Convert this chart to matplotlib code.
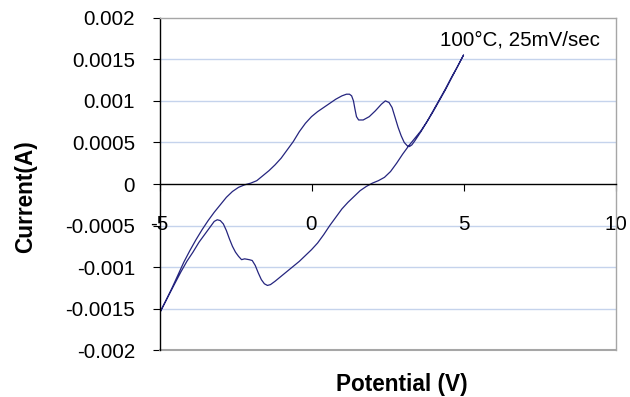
import matplotlib
matplotlib.use('Agg')
import matplotlib.pyplot as plt

# 正扫 (-5 V -> 5 V)
fwd_v = [-5.0, -4.8, -4.6, -4.4, -4.2, -4.0, -3.8, -3.6, -3.4, -3.2, -3.0,
         -2.8, -2.6, -2.4, -2.2, -2.0, -1.8, -1.6, -1.4, -1.2, -1.0, -0.8,
         -0.6, -0.4, -0.2, 0.0, 0.2, 0.4, 0.6, 0.8, 1.0, 1.15, 1.25, 1.32,
         1.38, 1.43, 1.48, 1.55, 1.7, 1.9, 2.1, 2.3, 2.43, 2.55, 2.65, 2.75,
         2.85, 2.95, 3.05, 3.15, 3.22, 3.3, 3.4, 3.6, 3.8, 4.0, 4.2, 4.4, 4.6,
         4.8, 5.0]
fwd_i = [-0.001555, -0.00141, -0.00126, -0.00110, -0.00094, -0.00080, -0.00067,
         -0.00055, -0.00044, -0.00034, -0.00025, -0.00016, -0.00009, -0.00004,
         -0.00001, 0.00001, 0.00004, 0.00010, 0.00016, 0.00023, 0.00031,
         0.00041, 0.00051, 0.00063, 0.00073, 0.00081, 0.00087, 0.00092,
         0.00097, 0.00102, 0.00106, 0.00108, 0.00108, 0.00106, 0.00100,
         0.00090, 0.00081, 0.00077, 0.00077, 0.00081, 0.00088, 0.00096,
         0.00100, 0.00098, 0.00092, 0.00080, 0.00068, 0.00058, 0.00050,
         0.00046, 0.00045, 0.00047, 0.00052, 0.00063, 0.00075, 0.00088,
         0.00101, 0.00114, 0.00128, 0.00141, 0.00155]

# 反扫 (5 V -> -5 V)
rev_v = [5.0, 4.8, 4.6, 4.4, 4.2, 4.0, 3.8, 3.6, 3.4, 3.2, 3.0, 2.8, 2.6, 2.4,
         2.2, 2.0, 1.8, 1.6, 1.4, 1.2, 1.0, 0.8, 0.6, 0.4, 0.2, 0.0, -0.2,
         -0.4, -0.6, -0.8, -1.0, -1.2, -1.35, -1.45, -1.55, -1.65, -1.75,
         -1.85, -1.95, -2.05, -2.2, -2.3, -2.4, -2.5, -2.6, -2.7, -2.8, -2.9,
         -3.0, -3.1, -3.2, -3.3, -3.5, -3.7, -3.9, -4.1, -4.3, -4.5, -4.7, -5.0]
rev_i = [0.00155, 0.00141, 0.00127, 0.00113, 0.00100, 0.00087, 0.00075,
         0.00064, 0.00055, 0.00046, 0.00036, 0.00025, 0.00015, 0.00008,
         0.00004, 0.00001, -0.00003, -0.00008, -0.00015, -0.00022, -0.00030,
         -0.00040, -0.00050, -0.00061, -0.00071, -0.00079, -0.00086, -0.00093,
         -0.00099, -0.00105, -0.00111, -0.00117, -0.00121, -0.00122, -0.00120,
         -0.00115, -0.00107, -0.00098, -0.00092, -0.00091, -0.00090, -0.00091,
         -0.00087, -0.00082, -0.00075, -0.00066, -0.00056, -0.00048, -0.00044,
         -0.00043, -0.00045, -0.00050, -0.00060, -0.00070, -0.00082, -0.00093,
         -0.00106, -0.00120, -0.00134, -0.001555]

x_ticks = [-5, 0, 5, 10]
x_labels = ['-5', '0', '5', '10']
y_ticks = [-0.002, -0.0015, -0.001, -0.0005, 0, 0.0005, 0.001, 0.0015, 0.002]
y_labels = ['-0.002', '-0.0015', '-0.001', '-0.0005', '0',
            '0.0005', '0.001', '0.0015', '0.002']

plt.rcParams['font.family'] = ['Liberation Sans', 'DejaVu Sans']

fig = plt.figure(figsize=(6.3, 3.97), dpi=100)
ax = fig.add_axes([159.5 / 630, 46.7 / 397, 456 / 630, 332.6 / 397])

# 循环伏安曲线
ax.plot(fwd_v + rev_v, fwd_i + rev_i, color='#25257f', lw=0.9)

ax.set_xlim(-5, 10)
ax.set_ylim(-0.002, 0.002)

# 网格线
for yv in y_ticks[1:-1]:
    if yv != 0:
        ax.axhline(yv, color='#c5d3ec', lw=1.0, zorder=0)

ax.set_xticks(x_ticks)
ax.set_xticklabels(x_labels)
ax.set_yticks(y_ticks)
ax.set_yticklabels(y_labels)

ax.spines['bottom'].set_position(('data', 0))
ax.spines['bottom'].set_color('black')
ax.spines['left'].set_color('black')
ax.spines['top'].set_color('#a6a6a6')
ax.spines['right'].set_color('#a6a6a6')
for s in ax.spines.values():
    s.set_linewidth(1.0)
ax.axhline(-0.002, color='#a6a6a6', lw=1.5, clip_on=False)

ax.tick_params(axis='x', direction='out', length=5, width=0.8, pad=17,
               labelsize=14.8)
ax.tick_params(axis='y', direction='out', length=5, width=0.8, pad=12.5,
               labelsize=14.8)

ax.text(4.24, 0.00167, '100°C, 25mV/sec', fontsize=14.8, ha='left',
        va='baseline')

fig.text(401.5 / 630, 1 - 384 / 397, 'Potential (V)', fontsize=16.3,
         fontweight='bold', ha='center', va='center')
fig.text(26 / 630, 1 - 197 / 397, 'Current(A)', fontsize=16.3,
         fontweight='bold', ha='center', va='center', rotation=90)

plt.savefig('out.png', dpi=100)
